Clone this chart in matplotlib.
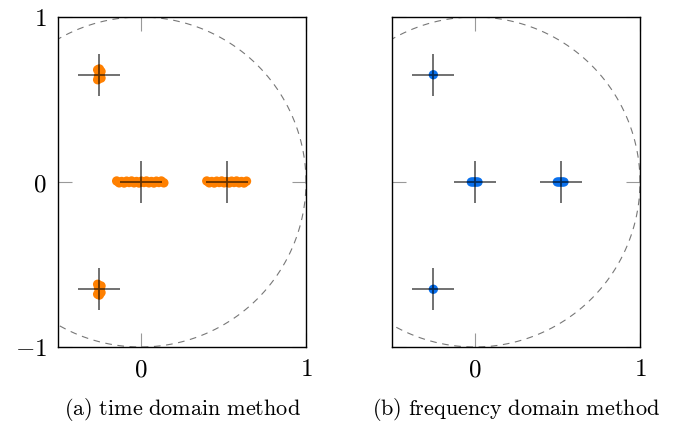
import numpy as np
import matplotlib
matplotlib.use("Agg")
import matplotlib.pyplot as plt

plt.rcParams['mathtext.fontset'] = 'cm'
plt.rcParams['font.family'] = ['DejaVu Serif']

# true poles (crosses)
pole_re = [-0.25, -0.25, 0.0, 0.52]
pole_im = [0.65, -0.65, 0.0, 0.0]

# time-domain estimates (orange clusters)
td_re = [-0.26, -0.25, -0.24, -0.26, -0.25, -0.24, -0.25, -0.255, -0.245,
         -0.26, -0.25, -0.24, -0.26, -0.25, -0.24, -0.25, -0.255, -0.245,
         -0.145, -0.13, -0.115, -0.10, -0.085, -0.07, -0.055, -0.04, -0.025, -0.01,
         0.005, 0.02, 0.035, 0.05, 0.065, 0.08, 0.095, 0.11, 0.125, 0.14,
         0.40, 0.415, 0.43, 0.445, 0.46, 0.475, 0.49, 0.505, 0.52,
         0.535, 0.55, 0.565, 0.58, 0.595, 0.61, 0.625, 0.64]
td_im = [0.68, 0.665, 0.63, 0.62, 0.65, 0.67, 0.685, 0.64, 0.655,
         -0.68, -0.665, -0.63, -0.62, -0.65, -0.67, -0.685, -0.64, -0.655,
         0.006, -0.005, 0.003, -0.006, 0.005, -0.003, 0.006, -0.005, 0.003, -0.006,
         0.005, -0.003, 0.006, -0.005, 0.003, -0.006, 0.005, -0.003, 0.006, -0.005,
         0.006, -0.005, 0.003, -0.006, 0.005, -0.003, 0.006, -0.005, 0.003,
         -0.006, 0.005, -0.003, 0.006, -0.005, 0.003, -0.006, 0.005]

# frequency-domain estimates (blue)
fd_re = [-0.25, -0.25, -0.02, -0.01, 0.0, 0.01, 0.02, 0.50, 0.51, 0.52, 0.53, 0.54]
fd_im = [0.65, -0.65, 0.0, 0.0, 0.0, 0.0, 0.0, 0.0, 0.0, 0.0, 0.0, 0.0]

captions = [r'$\mathrm{(a)\ time\ domain\ method}$',
            r'$\mathrm{(b)\ frequency\ domain\ method}$']

fig = plt.figure(figsize=(6.78, 4.26), dpi=100)
W, H = 678, 426
ax1 = fig.add_axes([58 / W, (H - 347) / H, 248 / W, 330 / H])
ax2 = fig.add_axes([392 / W, (H - 347) / H, 248 / W, 330 / H])

theta = np.linspace(0, 2 * np.pi, 400)
for i, ax in enumerate([ax1, ax2]):
    ax.plot(np.cos(theta), np.sin(theta), color='#777777', lw=0.8,
            ls=(0, (6, 5)), zorder=1)
    if i == 0:
        ax.scatter(td_re, td_im, s=46, color='#ff8000', edgecolors='none',
                   marker='o', zorder=2)
    else:
        ax.scatter(fd_re, fd_im, s=45, color='#0a70ec', edgecolors='none',
                   zorder=2)
    ax.plot(pole_re, pole_im, ls='none', marker='+', markersize=30,
            markeredgewidth=1.3, color=(0, 0, 0, 0.6), zorder=3)
    ax.set_xlim(-0.5, 1.0)
    ax.set_ylim(-1.0, 1.0)
    ax.set_xticks([0, 1])
    ax.set_xticklabels(['$0$', '$1$'], fontsize=18)
    ax.set_yticks([-1, 0, 1])
    if i == 0:
        ax.set_yticklabels(['$-1$', '$0$', '$1$'], fontsize=18)
    else:
        ax.set_yticklabels([])
    ax.tick_params(direction='in', length=10, width=0.8, color='#999999',
                   top=True, right=True, pad=8)
    for sp in ax.spines.values():
        sp.set_linewidth(1.0)
    ax.text(0.5, -0.19, captions[i], transform=ax.transAxes, ha='center',
            va='center', fontsize=16)

fig.savefig('out.png', dpi=100)
